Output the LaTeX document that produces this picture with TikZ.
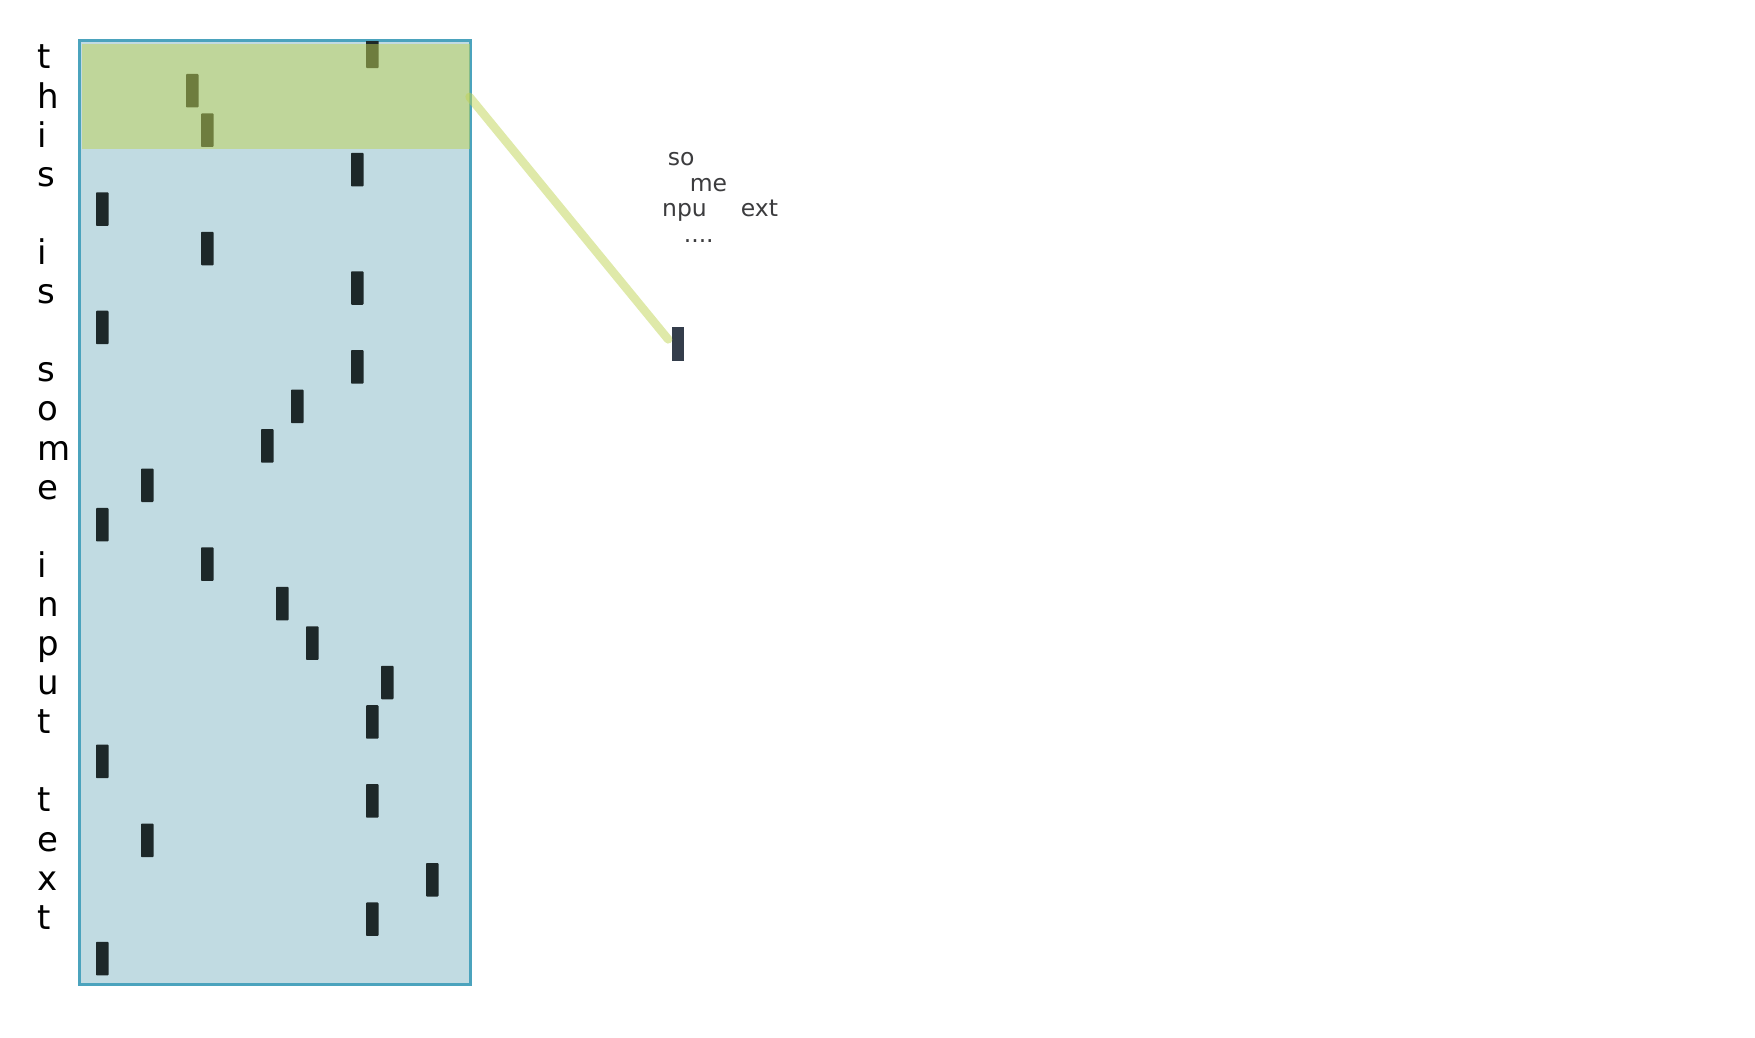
\documentclass[tikz,border=0pt]{standalone}
\usepackage{fontspec}
\setmainfont{DejaVu Sans}
\definecolor{boxfill}{RGB}{193,219,226}
\definecolor{boxline}{RGB}{75,163,189}
\definecolor{blockc}{RGB}{29,40,41}
\definecolor{hlc}{RGB}{191,211,84}
\definecolor{outc}{RGB}{52,61,75}
\definecolor{textc}{RGB}{60,60,62}
\begin{document}
\begin{tikzpicture}[x=1pt,y=-1pt,
  blk/.style={fill=blockc, draw=none, inner sep=0pt, outer sep=0pt, minimum width=12.5pt, minimum height=33.5pt, anchor=north west, rounded corners=0.8pt},
  ltr/.style={anchor=base west, inner sep=0pt, font=\fontsize{34}{40}\selectfont, text=black},
  lbl/.style={anchor=base west, inner sep=0pt, font=\fontsize{23.5}{28}\selectfont, text=textc}]
\useasboundingbox (0,0) rectangle (1755,1038);
% matrix frame
\node[fill=boxfill, draw=boxline, line width=3pt, minimum width=391pt, minimum height=943.5pt, anchor=north west, inner sep=0pt, outer sep=0pt] (mat) at (79.5,40.5) {};
% one-hot blocks
\begin{scope}
\clip (81,42) rectangle (469,982.5);
\foreach \r/\k in {1/18,2/6,3/7,4/17,5/0,6/7,7/17,8/0,9/17,10/13,11/11,12/3,13/0,14/7,15/12,16/14,17/19,18/18,19/0,20/18,21/3,22/22,23/18,24/0}
  \node[blk] (b\r) at ({96+15*\k},{74+(\r-2)*39.45}) {};
\end{scope}
% highlight window
\node[fill=hlc, fill opacity=0.5, minimum width=387.5pt, minimum height=104.8pt, anchor=north west, inner sep=0pt, outer sep=0pt] (hl) at (82,44.5) {};
% output block
\node[fill=outc, inner sep=0pt, outer sep=0pt, minimum width=12pt, minimum height=34pt, anchor=north west] (ob) at (672,327) {};
\draw[hlc, draw opacity=0.5, line width=8.5pt, line cap=round, shorten >=6pt] (hl.east) -- (ob.west);
% input letters
\foreach \r/\c in {1/t,2/h,3/i,4/s,6/i,7/s,9/s,10/o,11/m,12/e,14/i,15/n,16/p,17/u,18/t,20/t,21/e,22/x,23/t}
  \node[ltr] (l\r) at (37,{69+(\r-1)*39.1}) {\c};
% fragment labels
\node[lbl] (so) at (667.7,165) {so};
\node[lbl] (me) at (689.6,191.7) {me};
\node[lbl] (npu) at (661.9,216.7) {npu};
\node[lbl] (ext) at (740.7,216.7) {ext};
\node[lbl] (dots) at (683.6,242.7) {....};
\end{tikzpicture}
\end{document}
